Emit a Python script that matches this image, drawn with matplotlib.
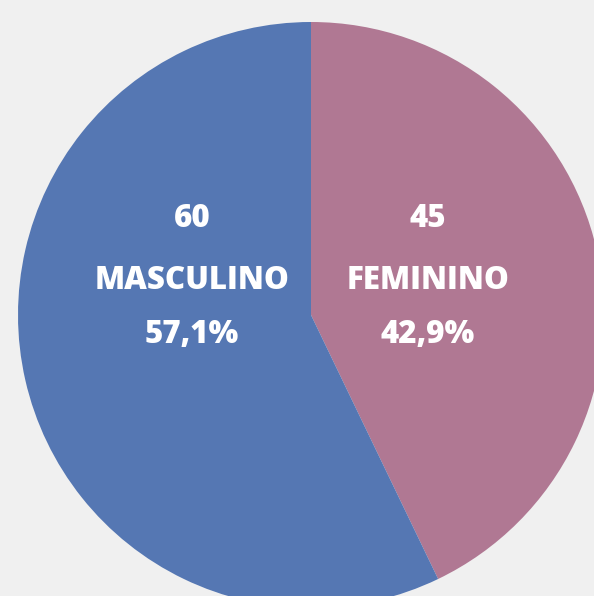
import matplotlib.pyplot as plt

labels = ["FEMININO", "MASCULINO"]
counts = [45, 60]
colors = ["#b07893", "#5577b3"]

total = sum(counts)
percents = [f"{c / total * 100:.1f}%".replace(".", ",") for c in counts]

W, H = 594, 596
fig = plt.figure(figsize=(W / 100, H / 100), dpi=100)
fig.patch.set_facecolor("#f0f0f0")
ax = fig.add_axes([0, 0, 1, 1])

# pie in pixel coords (y axis points down, so counterclock=True runs clockwise on screen)
ax.pie(counts, colors=colors, startangle=-90, counterclock=True,
       center=(311, 315), radius=293, frame=True,
       wedgeprops=dict(linewidth=0))
ax.set_xlim(0, W)
ax.set_ylim(H, 0)
ax.axis("off")

txt = dict(color="white", fontweight="heavy", fontsize=22.5, family="Open Sans",
           ha="center", va="center")
# label positions (pixels) for each slice
xs = {"FEMININO": 428, "MASCULINO": 192}
for lab, c, p in zip(labels, counts, percents):
    x = xs[lab]
    ax.text(x, 219, str(c), **txt)
    ax.text(x, 281, lab, **txt)
    ax.text(x, 335, p, **txt)

fig.savefig("out.png", dpi=100, facecolor=fig.get_facecolor())
